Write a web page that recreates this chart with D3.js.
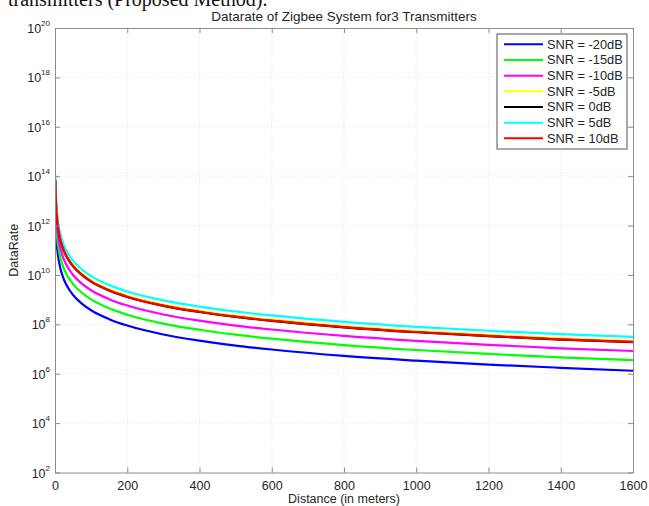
<!DOCTYPE html>
<html>
<head>
<meta charset="utf-8">
<script src="https://cdn.jsdelivr.net/npm/d3@7"></script>
<style>
  html, body { margin: 0; padding: 0; background: #fff; }
  svg { display: block; font-family: "Liberation Sans", Arial, sans-serif; }
</style>
</head>
<body>
<svg id="chart" width="649" height="506"></svg>
<script>
// Distances (m) at which the data rate was sampled
const distances = [1, 2, 3, 5, 7, 10, 15, 20, 30, 40, 50, 75, 100, 150, 200, 300, 400, 500, 600, 800, 1000, 1200, 1400, 1600];

// Data rate per SNR, stored as decades (log10 of the rate)
const snrMinus20 = [12.67, 12.05, 11.69, 11.24, 10.94, 10.62, 10.26, 10.00, 9.64, 9.39, 9.19, 8.83, 8.57, 8.21, 7.95, 7.59, 7.34, 7.14, 6.98, 6.72, 6.53, 6.37, 6.24, 6.12];
const snrMinus15 = [13.11, 12.49, 12.13, 11.68, 11.38, 11.06, 10.70, 10.44, 10.08, 9.83, 9.63, 9.27, 9.01, 8.65, 8.39, 8.03, 7.78, 7.58, 7.42, 7.16, 6.96, 6.80, 6.66, 6.55];
const snrMinus10 = [13.48, 12.86, 12.50, 12.05, 11.75, 11.43, 11.07, 10.81, 10.45, 10.20, 10.00, 9.64, 9.38, 9.02, 8.76, 8.40, 8.15, 7.95, 7.79, 7.53, 7.33, 7.17, 7.03, 6.92];
const snrMinus5  = [13.88, 13.26, 12.90, 12.45, 12.15, 11.83, 11.47, 11.21, 10.85, 10.60, 10.40, 10.04, 9.78, 9.42, 9.16, 8.80, 8.55, 8.35, 8.19, 7.93, 7.73, 7.57, 7.43, 7.32];
const snr0       = [13.83, 13.21, 12.85, 12.40, 12.10, 11.78, 11.42, 11.16, 10.80, 10.55, 10.35, 9.99, 9.73, 9.37, 9.11, 8.75, 8.50, 8.30, 8.14, 7.88, 7.68, 7.52, 7.38, 7.28];
const snr5       = [14.05, 13.43, 13.07, 12.62, 12.32, 12.00, 11.64, 11.38, 11.02, 10.77, 10.57, 10.21, 9.95, 9.59, 9.33, 8.97, 8.72, 8.52, 8.36, 8.10, 7.90, 7.74, 7.60, 7.49];
const snr10      = [13.84, 13.22, 12.86, 12.41, 12.11, 11.79, 11.43, 11.17, 10.81, 10.56, 10.36, 10.00, 9.74, 9.38, 9.12, 8.76, 8.51, 8.31, 8.15, 7.89, 7.69, 7.53, 7.39, 7.29];

const seriesLabels = ["SNR = -20dB", "SNR = -15dB", "SNR = -10dB", "SNR = -5dB", "SNR = 0dB", "SNR = 5dB", "SNR = 10dB"];
const seriesValues = [snrMinus20, snrMinus15, snrMinus10, snrMinus5, snr0, snr5, snr10];
const seriesColors = ["#0000ff", "#00ff00", "#ff00ff", "#ffff00", "#000000", "#00ffff", "#ff0000"];

const xTicks = [0, 200, 400, 600, 800, 1000, 1200, 1400, 1600];
const yTickExponents = [2, 4, 6, 8, 10, 12, 14, 16, 18, 20];

const titleText = "Datarate of Zigbee System for3 Transmitters";
const xLabelText = "Distance (in meters)";
const yLabelText = "DataRate";
const captionText = "transmitters (Proposed Method).";

const svg = d3.select("#chart");
const plot = { left: 55, right: 633, top: 28, bottom: 472.5 };
const textColor = "#262626";
const fontSize = 12.5;

const x = d3.scaleLinear().domain([0, 1600]).range([plot.left, plot.right]);
const y = d3.scaleLog().domain([1e2, 1e20]).range([plot.bottom, plot.top]);

// caption line of the surrounding document, clipped at the top edge
svg.append("text")
  .attr("x", 8).attr("y", 6)
  .attr("font-family", "'Liberation Serif', 'Times New Roman', serif")
  .attr("font-size", 20).attr("fill", "#111")
  .text(captionText);

// grid
const grid = svg.append("g").attr("stroke", "#dcdcdc").attr("stroke-width", 0.8).attr("stroke-dasharray", "1,2");
grid.selectAll(".gx").data(xTicks.slice(1, -1)).join("line")
  .attr("x1", d => x(d)).attr("x2", d => x(d))
  .attr("y1", plot.top).attr("y2", plot.bottom);
grid.selectAll(".gy").data(yTickExponents.slice(1, -1)).join("line")
  .attr("x1", plot.left).attr("x2", plot.right)
  .attr("y1", d => y(10 ** d)).attr("y2", d => y(10 ** d));

// curves
svg.append("clipPath").attr("id", "plotclip").append("rect")
  .attr("x", plot.left).attr("y", plot.top)
  .attr("width", plot.right - plot.left).attr("height", plot.bottom - plot.top);

const line = d3.line()
  .x(d => x(d[0]))
  .y(d => y(10 ** d[1]))
  .curve(d3.curveMonotoneX);

const curves = svg.append("g").attr("clip-path", "url(#plotclip)");
seriesValues.forEach((vals, i) => {
  curves.append("path")
    .datum(distances.map((d, j) => [d, vals[j]]))
    .attr("fill", "none")
    .attr("stroke", seriesColors[i])
    .attr("stroke-width", 2.2)
    .attr("stroke-linejoin", "round")
    .attr("d", line);
});

// axes box with inward ticks on all four sides
const axisColor = "#8c8c8c";
const tickLen = 5;
const xAxis = d3.axisBottom(x).tickValues(xTicks).tickFormat(d3.format("d"))
  .tickSizeInner(-tickLen).tickSizeOuter(0).tickPadding(9);
const gx = svg.append("g").attr("transform", `translate(0,${plot.bottom})`).call(xAxis);
gx.select(".domain").attr("stroke", axisColor);
gx.selectAll(".tick line").attr("stroke", axisColor);
gx.selectAll(".tick text").attr("font-size", fontSize).attr("fill", textColor)
  .attr("font-family", "'Liberation Sans', Arial, sans-serif");

const gxTop = svg.append("g").attr("transform", `translate(0,${plot.top})`)
  .call(d3.axisTop(x).tickValues(xTicks).tickSizeInner(-tickLen).tickSizeOuter(0).tickFormat(""));
gxTop.select(".domain").attr("stroke", axisColor);
gxTop.selectAll(".tick line").attr("stroke", axisColor);

const yAxis = d3.axisLeft(y).tickValues(yTickExponents.map(e => 10 ** e))
  .tickSizeInner(-tickLen).tickSizeOuter(0).tickFormat("");
const gy = svg.append("g").attr("transform", `translate(${plot.left},0)`).call(yAxis);
gy.select(".domain").attr("stroke", axisColor);
gy.selectAll(".tick line").attr("stroke", axisColor);

const gyRight = svg.append("g").attr("transform", `translate(${plot.right},0)`)
  .call(d3.axisRight(y).tickValues(yTickExponents.map(e => 10 ** e))
    .tickSizeInner(-tickLen).tickSizeOuter(0).tickFormat(""));
gyRight.select(".domain").attr("stroke", axisColor);
gyRight.selectAll(".tick line").attr("stroke", axisColor);

// y tick labels as 10 with superscript exponent
const yl = svg.append("g").attr("fill", textColor).attr("font-size", fontSize);
yTickExponents.forEach(e => {
  const t = yl.append("text")
    .attr("x", plot.left - 5)
    .attr("y", y(10 ** e) + 5)
    .attr("text-anchor", "end");
  t.append("tspan").text("10");
  t.append("tspan").attr("font-size", 8).attr("dy", -7).text(e);
});

// title and axis labels
svg.append("text")
  .attr("x", (plot.left + plot.right) / 2).attr("y", 20.5)
  .attr("text-anchor", "middle").attr("font-size", 13.5).attr("fill", textColor)
  .text(titleText);

svg.append("text")
  .attr("x", (plot.left + plot.right) / 2).attr("y", 503)
  .attr("text-anchor", "middle").attr("font-size", fontSize).attr("fill", textColor)
  .text(xLabelText);

svg.append("text")
  .attr("transform", `translate(18,${(plot.top + plot.bottom) / 2}) rotate(-90)`)
  .attr("text-anchor", "middle").attr("font-size", fontSize).attr("fill", textColor)
  .text(yLabelText);

// legend
const legend = svg.append("g");
const lg = { x: 497, y: 34, w: 130, h: 115, row: 15.67 };
legend.append("rect")
  .attr("x", lg.x).attr("y", lg.y).attr("width", lg.w).attr("height", lg.h)
  .attr("fill", "#fff").attr("stroke", "#555").attr("stroke-width", 1);
seriesLabels.forEach((label, i) => {
  const cy = lg.y + 10.3 + i * lg.row;
  legend.append("line")
    .attr("x1", lg.x + 7).attr("x2", lg.x + 46)
    .attr("y1", cy).attr("y2", cy)
    .attr("stroke", seriesColors[i]).attr("stroke-width", 2);
  legend.append("text")
    .attr("x", lg.x + 50).attr("y", cy + 4.5)
    .attr("font-size", fontSize + 0.3).attr("fill", textColor)
    .text(label);
});
</script>
</body>
</html>
